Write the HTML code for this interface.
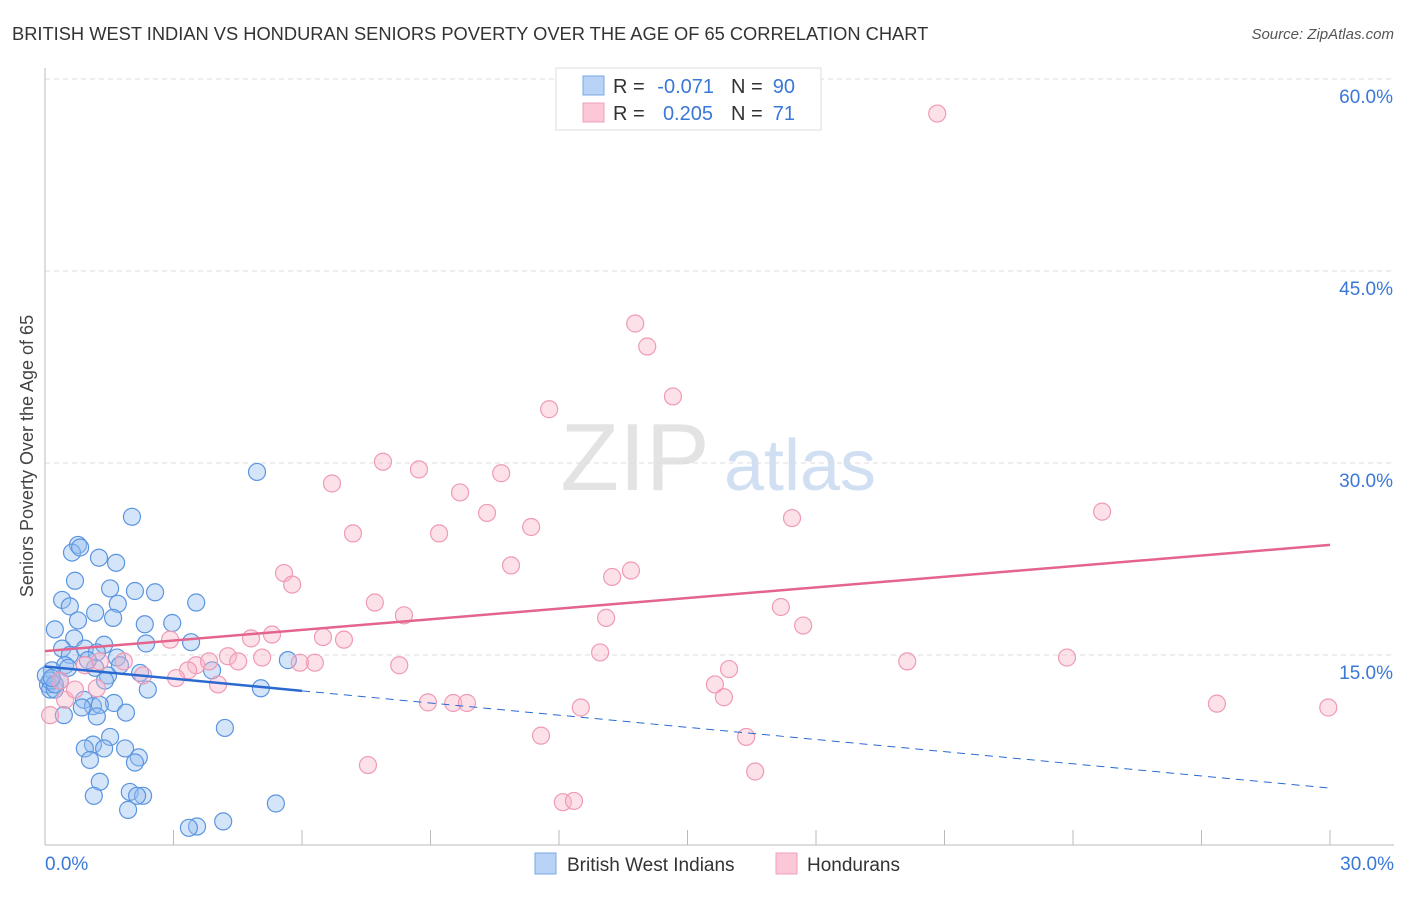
<!DOCTYPE html>
<html><head><meta charset="utf-8"><style>
body{margin:0;background:#fff;font-family:"Liberation Sans",sans-serif}
svg text{font-family:"Liberation Sans",sans-serif}
</style></head><body>
<svg width="1406" height="892" id="c">
<text x="12" y="40" font-size="18.3" fill="#333">BRITISH WEST INDIAN VS HONDURAN SENIORS POVERTY OVER THE AGE OF 65 CORRELATION CHART</text>
<text x="1394" y="39" font-size="15" fill="#555" text-anchor="end" font-style="italic">Source: ZipAtlas.com</text>
<text x="33" y="456" font-size="18" fill="#444" text-anchor="middle" transform="rotate(-90 33 456)">Seniors Poverty Over the Age of 65</text>
<g><text x="635" y="490" font-size="96" fill="#ddd" font-family="Liberation Serif" text-anchor="middle" opacity="0.8">ZIP</text><text x="800" y="490" font-size="72" fill="#c5d8f0" text-anchor="middle" opacity="0.8">atlas</text></g>
<g id="grid"></g><g id="axes"></g><g id="pts"></g><g id="lines"></g>
<g>
<rect x="556" y="68" width="265" height="62" fill="#fff" stroke="#ddd"/>
<rect x="583" y="76" width="21" height="19" fill="#b8d3f5" stroke="#7aa8e8"/>
<rect x="583" y="103" width="21" height="19" fill="#fcc8d8" stroke="#f0a0b8"/>
<text x="613" y="93" font-size="20" fill="#333">R =</text><text x="714" y="93" font-size="20" fill="#3a78d8" text-anchor="end">-0.071</text>
<text x="731" y="93" font-size="20" fill="#333">N =</text><text x="795" y="93" font-size="20" fill="#3a78d8" text-anchor="end">90</text>
<text x="613" y="120" font-size="20" fill="#333">R =</text><text x="713" y="120" font-size="20" fill="#3a78d8" text-anchor="end">0.205</text>
<text x="731" y="120" font-size="20" fill="#333">N =</text><text x="795" y="120" font-size="20" fill="#3a78d8" text-anchor="end">71</text>
</g>
<g>
<rect x="535" y="853" width="21" height="21" fill="#b8d3f5" stroke="#7aa8e8"/>
<text x="567" y="871" font-size="19" fill="#333">British West Indians</text>
<rect x="776" y="853" width="21" height="21" fill="#fcc8d8" stroke="#f0a0b8"/>
<text x="807" y="871" font-size="19" fill="#333">Hondurans</text>
</g>
</svg>
<script>
const yTicks=[15,30,45,60];
const yTickLabels=["15.0%","30.0%","45.0%","60.0%"];
const xTickLabels=["0.0%","30.0%"];
const blueX=[4.95,2.03,.77,.63,.82,1.26,1.66,.70,1.52,2.10,2.57,.40,.58,1.70,3.53,1.17,1.59,.77,2.97,2.33,.68,1.38,.23,2.36,3.41,.40,.93,.58,1.21,1.68,5.67,.47,1.17,.16,2.22,1.47,3.90,.35,.07,.12,.23,1.40,2.40,5.04,.91,1.61,1.12,1.28,.86,1.89,.44,1.21,4.20,1.52,1.12,.93,1.38,1.87,2.19,2.10,1.05,1.28,1.98,2.29,1.14,2.15,1.94,5.39,3.55,3.36,4.16,.12,.02,.23,.16,.54,1.0,1.75];
const blueY=[29.3,25.8,23.6,23.0,23.4,22.6,22.2,20.8,20.2,20.0,19.9,19.3,18.8,19.0,19.1,18.3,17.9,17.7,17.5,17.4,16.3,15.8,17.0,15.9,16.0,15.5,15.5,15.0,15.2,14.8,14.6,14.2,14.0,13.8,13.6,13.4,13.8,13.0,12.7,12.3,12.3,13.0,12.3,12.4,11.5,11.25,11.0,11.1,10.9,10.5,10.3,10.2,9.3,8.6,8.0,7.7,7.7,7.7,7.0,6.6,6.8,5.1,4.3,4.0,4.0,4.0,2.9,3.4,1.6,1.5,2.0,13.0,13.4,12.7,13.2,14.0,14.6,14.2];
const pinkX=[20.83,13.78,14.06,14.66,11.77,7.89,8.73,10.65,6.70,9.69,10.32,24.68,17.44,11.35,7.19,9.20,10.88,13.68,13.24,5.58,5.77,7.70,17.18,8.38,13.10,17.70,5.30,6.49,6.98,4.81,2.92,12.96,23.86,20.13,4.27,5.07,4.51,6.30,5.95,8.27,3.53,3.83,3.34,1.84,1.28,15.97,2.29,3.06,15.64,4.04,1.21,15.85,8.94,9.53,9.85,27.36,29.96,12.51,.47,.12,11.58,16.37,7.54,16.58,12.09,12.35,.93,.70,.35];
const pinkY=[57.3,40.9,39.1,35.2,34.2,30.1,29.5,29.2,28.4,27.7,26.1,26.2,25.7,25.0,24.5,24.5,22.0,21.6,21.1,21.4,20.5,19.1,18.75,18.1,17.9,17.3,16.6,16.4,16.2,16.3,16.2,15.2,14.8,14.5,14.9,14.8,14.5,14.4,14.4,14.2,14.2,14.5,13.8,14.5,14.5,13.9,13.4,13.2,12.7,12.7,12.4,11.7,11.3,11.25,11.25,11.2,10.9,10.9,11.5,10.3,8.7,8.6,6.4,5.9,3.5,3.6,14.2,12.3,13.0];
const blueTrendX=[0,6,30];
const blueTrendY=[14.1,12.2,4.6];
const pinkTrendX=[0,30];
const pinkTrendY=[15.3,23.6];
const NS="http://www.w3.org/2000/svg";
const sx=v=>45+v/30*1285, sy=v=>847-v*12.8;
function mk(tag,attrs,parent){const e=document.createElementNS(NS,tag);for(const k in attrs)e.setAttribute(k,attrs[k]);document.getElementById(parent).appendChild(e);return e;}
yTicks.forEach((t,i)=>{
 const g=mk('line',{x1:45,x2:1394,y1:sy(t),y2:sy(t),stroke:'#ddd','stroke-dasharray':'5,4'},'grid');
 
 
 const l=mk('text',{x:1393,y:sy(t)+24,'font-size':19,fill:'#3a78d8','text-anchor':'end'},'grid');
 l.textContent=yTickLabels[i];
 
 
});
const ax=mk('line',{x1:45,x2:45,y1:68,y2:845,stroke:'#bbb'},'axes');


const bx=mk('line',{x1:45,x2:1394,y1:845,y2:845,stroke:'#bbb'},'axes');


for(let v=3;v<=30;v+=3){const t=mk('line',{x1:sx(v),x2:sx(v),y1:830,y2:845,stroke:'#bbb'},'axes');
 
 }
[[0,'start',45],[30,'end',1394]].forEach((d,i)=>{const t=mk('text',{x:d[2],y:870,'font-size':19,fill:'#3a78d8','text-anchor':d[1]},'axes');t.textContent=xTickLabels[i];
 
 });
blueX.forEach((x,i)=>{const c=mk('circle',{cx:sx(x),cy:sy(blueY[i]),r:8.5,fill:'rgba(150,190,240,0.4)',stroke:'#5b95e0','stroke-width':1.2},'pts');
 
 });
pinkX.forEach((x,i)=>{const c=mk('circle',{cx:sx(x),cy:sy(pinkY[i]),r:8.5,fill:'rgba(248,180,200,0.4)',stroke:'#f09ab5','stroke-width':1.2},'pts');
 
 });
const b1=mk('line',{x1:sx(blueTrendX[0]),y1:sy(blueTrendY[0]),x2:sx(blueTrendX[1]),y2:sy(blueTrendY[1]),stroke:'#2a6ad0','stroke-width':2.5},'lines');


const b2=mk('line',{x1:sx(blueTrendX[1]),y1:sy(blueTrendY[1]),x2:sx(blueTrendX[2]),y2:sy(blueTrendY[2]),stroke:'#2a6ad0','stroke-width':1,'stroke-dasharray':'8,6'},'lines');


const p1=mk('line',{x1:sx(pinkTrendX[0]),y1:sy(pinkTrendY[0]),x2:sx(pinkTrendX[1]),y2:sy(pinkTrendY[1]),stroke:'#e4648e','stroke-width':2.5},'lines');


</script>
</body></html>
